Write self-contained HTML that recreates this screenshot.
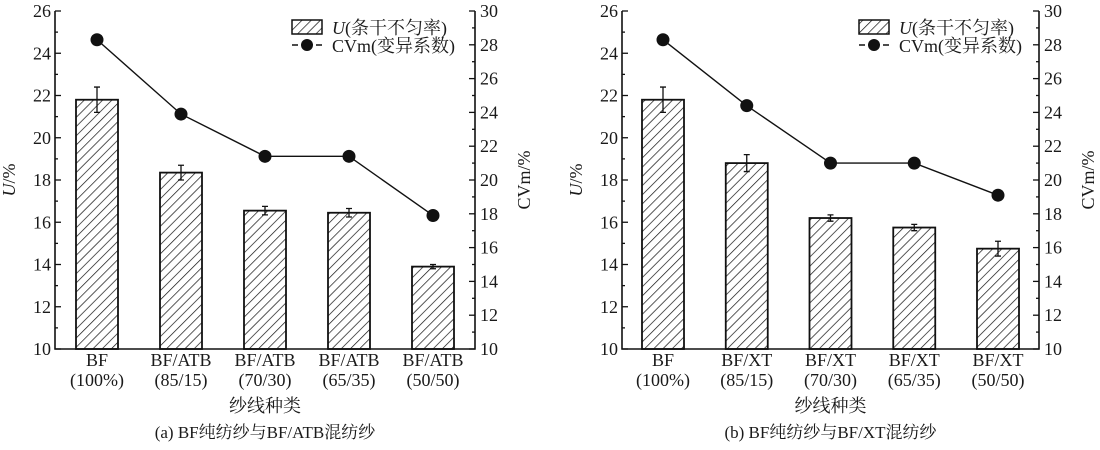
<!DOCTYPE html>
<html><head><meta charset="utf-8"><style>
body{margin:0;background:#fff}
svg text{font-family:"Liberation Serif","Noto Serif CJK SC",serif;fill:#1a1a1a}
</style></head><body>
<svg id="s" width="1100" height="445" xmlns="http://www.w3.org/2000/svg">
<defs>
<pattern id="h" width="6.5" height="6.5" patternUnits="userSpaceOnUse" patternTransform="rotate(45)">
<line x1="0" y1="0" x2="0" y2="6.5" stroke="#111" stroke-width="1.4"/>
</pattern>
</defs>
</svg>
<script>
const s=document.getElementById('s');let o='';
function chart(L,R,first,step,U,E,C,lab,cap){
 const T=11,B=349;
 const yl=v=>B-(v-10)*(B-T)/16, yr=v=>B-(v-10)*(B-T)/20;
 for(let i=0;i<5;i++){const cx=first+i*step,y=yl(U[i]);
  o+=`<rect x="${cx-21}" y="${y}" width="42" height="${B-y}" fill="url(#h)" stroke="#111" stroke-width="1.8"/>`;
  const a=yl(U[i]+E[i]),b=yl(U[i]-E[i]);
  o+=`<path d="M${cx} ${a}V${b}M${cx-3} ${a}H${cx+3}M${cx-3} ${b}H${cx+3}" stroke="#111" stroke-width="1.3"/>`;
  o+=`<text x="${cx}" y="366" font-size="18" text-anchor="middle">${lab[i][0]}</text>`;
  o+=`<text x="${cx}" y="386" font-size="18" text-anchor="middle">${lab[i][1]}</text>`;
 }
 let p='';for(let i=0;i<5;i++)p+=(i?'L':'M')+(first+i*step)+' '+yr(C[i]);
 o+=`<path d="${p}" fill="none" stroke="#111" stroke-width="1.4"/>`;
 for(let i=0;i<5;i++)o+=`<circle cx="${first+i*step}" cy="${yr(C[i])}" r="6.5" fill="#111"/>`;
 o+=`<path d="M${L} ${T}V${B}H${R}V${T}" fill="none" stroke="#111" stroke-width="1.6"/>`;
 for(let v=10;v<=26;v++){const y=yl(v),M=v%2==0;o+=`<line x1="${L}" x2="${L+(M?6:3)}" y1="${y}" y2="${y}" stroke="#111" stroke-width="1.3"/>`;
  if(M)o+=`<text x="${L-4}" y="${y+6}" font-size="18" text-anchor="end">${v}</text>`;}
 for(let v=10;v<=30;v++){const y=yr(v),M=v%2==0;o+=`<line x1="${R}" x2="${R-(M?6:3)}" y1="${y}" y2="${y}" stroke="#111" stroke-width="1.3"/>`;
  if(M)o+=`<text x="${R+5}" y="${y+6}" font-size="18">${v}</text>`;}
 o+=`<text transform="translate(${L-40},180) rotate(-90)" font-size="18" text-anchor="middle"><tspan font-style="italic">U</tspan>/%</text>`;
 o+=`<text transform="translate(${R+55},180) rotate(-90)" font-size="18" text-anchor="middle">CVm/%</text>`;
 const lx=L+237;
 o+=`<rect x="${lx}" y="20" width="30" height="14" fill="url(#h)" stroke="#111" stroke-width="1.5"/>`;
 o+=`<text x="${lx+40}" y="34" font-size="18"><tspan font-style="italic">U</tspan>(条干不匀率)</text>`;
 o+=`<path d="M${lx} 45H${lx+6}M${lx+24} 45H${lx+30}" stroke="#111" stroke-width="1.5"/><circle cx="${lx+15}" cy="45" r="6" fill="#111"/>`;
 o+=`<text x="${lx+40}" y="52" font-size="18">CVm(变异系数)</text>`;
 const mid=(L+R)/2;
 o+=`<text x="${mid}" y="412" font-size="18" text-anchor="middle">纱线种类</text>`;
 o+=`<text x="${mid}" y="438" font-size="17" text-anchor="middle">${cap}</text>`;
}
chart(55,475,97,84,[21.8,18.35,16.55,16.45,13.9],[0.6,0.35,0.2,0.2,0.1],[28.3,23.9,21.4,21.4,17.9],
 [['BF','(100%)'],['BF/ATB','(85/15)'],['BF/ATB','(70/30)'],['BF/ATB','(65/35)'],['BF/ATB','(50/50)']],'(a) BF纯纺纱与BF/ATB混纺纱');
chart(622,1039,663,83.75,[21.8,18.8,16.2,15.75,14.75],[0.6,0.4,0.15,0.15,0.35],[28.3,24.4,21.0,21.0,19.1],
 [['BF','(100%)'],['BF/XT','(85/15)'],['BF/XT','(70/30)'],['BF/XT','(65/35)'],['BF/XT','(50/50)']],'(b) BF纯纺纱与BF/XT混纺纱');
s.insertAdjacentHTML('beforeend',o);
</script>
</body></html>
